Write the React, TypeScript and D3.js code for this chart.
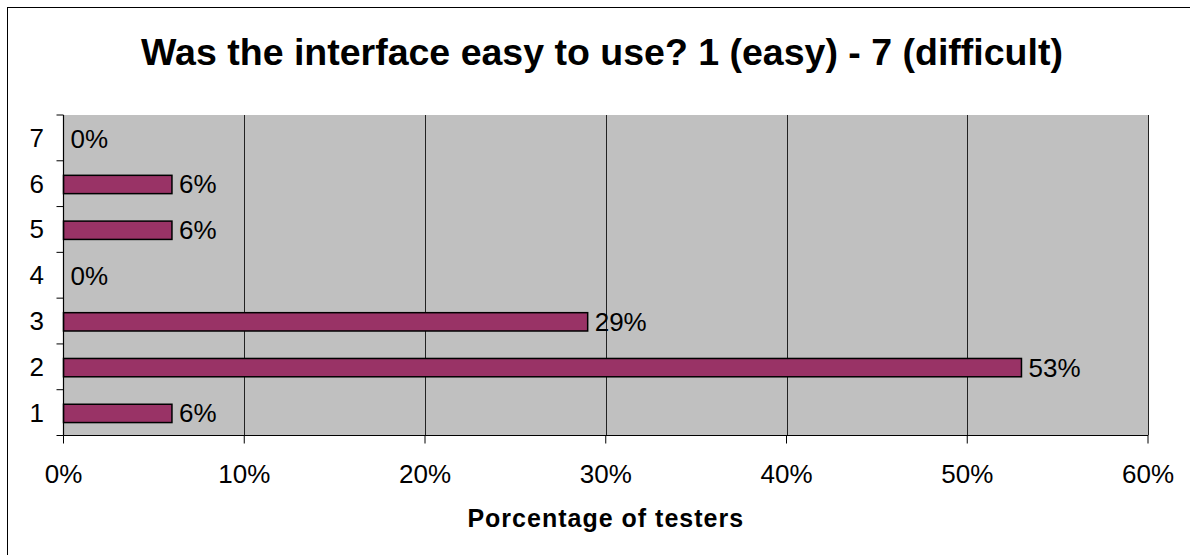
import React from "react";
import * as d3 from "d3";

const categories: string[] = ["1", "2", "3", "4", "5", "6", "7"];
const values: number[] = [0.06, 0.53, 0.29, 0, 0.06, 0.06, 0];
const xTicks: number[] = [0, 0.1, 0.2, 0.3, 0.4, 0.5, 0.6];
const title = "Was the interface easy to use? 1 (easy) - 7 (difficult)";
const xTitle = "Porcentage of testers";

const W = 1190;
const H = 555;
const FONT = "'Liberation Sans', Arial, Helvetica, sans-serif";

export default function App() {
  const left = 63.5;
  const right = 1148;
  const top = 115;
  const bottom = 435.5;

  const x = d3.scaleLinear().domain([0, 0.6]).range([left, right]);
  // reverse so category 1 is at the bottom
  const y = d3
    .scaleBand<string>()
    .domain([...categories].reverse())
    .range([top, bottom])
    .paddingInner(0)
    .paddingOuter(0);
  const bw = y.bandwidth();
  const barH = bw * 0.4;
  const fmt = d3.format(".0%");

  const boundaries = d3.range(categories.length + 1).map((i) => top + i * bw);

  return (
    <svg
      width={W}
      height={H}
      style={{ position: "absolute", left: 0, top: 0, display: "block", background: "#fff" }}
      fontFamily={FONT}
    >
      <rect x={7.5} y={7.5} width={W + 50} height={H + 50} fill="#fff" stroke="#000" strokeWidth={1} />
      <text x={602} y={65} textAnchor="middle" fontSize={37.5} fontWeight="bold" fill="#000">
        {title}
      </text>

      {/* plot background */}
      <rect x={left} y={top} width={right - left} height={bottom - top} fill="#C0C0C0" />

      {/* gridlines */}
      {xTicks.slice(1).map((t) => (
        <line
          key={"g" + t}
          x1={Math.round(x(t)) + 0.5}
          x2={Math.round(x(t)) + 0.5}
          y1={top}
          y2={bottom}
          stroke="#222"
          strokeWidth={1}
        />
      ))}

      {/* bars */}
      {categories.map((c, i) => {
        const v = values[i];
        const yc = (y(c) as number) + bw / 2 + 0.8;
        return (
          <g key={"b" + c}>
            {v > 0 && (
              <rect
                x={x(0)}
                y={yc - barH / 2}
                width={x(v) - x(0)}
                height={barH}
                fill="#993366"
                stroke="#000"
                strokeWidth={1.5}
              />
            )}
            <text x={x(v) + 7} y={yc + 9} fontSize={26} fill="#000">
              {fmt(v)}
            </text>
          </g>
        );
      })}

      {/* y axis */}
      <line x1={left} x2={left} y1={top} y2={bottom} stroke="#000" strokeWidth={1.2} />
      {boundaries.map((b, i) => (
        <line key={"yt" + i} x1={left - 7} x2={left} y1={b} y2={b} stroke="#000" strokeWidth={1} />
      ))}
      {categories.map((c) => (
        <text
          key={"yl" + c}
          x={44}
          y={(y(c) as number) + bw / 2 + 9}
          textAnchor="end"
          fontSize={26}
          fill="#000"
        >
          {c}
        </text>
      ))}

      {/* x axis */}
      <line x1={left} x2={right} y1={bottom} y2={bottom} stroke="#000" strokeWidth={1.2} />
      {xTicks.map((t) => (
        <g key={"xt" + t}>
          <line x1={x(t)} x2={x(t)} y1={bottom} y2={bottom + 8} stroke="#000" strokeWidth={1} />
          <text x={x(t)} y={483} textAnchor="middle" fontSize={26} fill="#000">
            {fmt(t)}
          </text>
        </g>
      ))}
      <text
        x={(left + right) / 2}
        y={527}
        textAnchor="middle"
        fontSize={25}
        fontWeight="bold"
        letterSpacing={1}
        fill="#000"
      >
        {xTitle}
      </text>
    </svg>
  );
}
